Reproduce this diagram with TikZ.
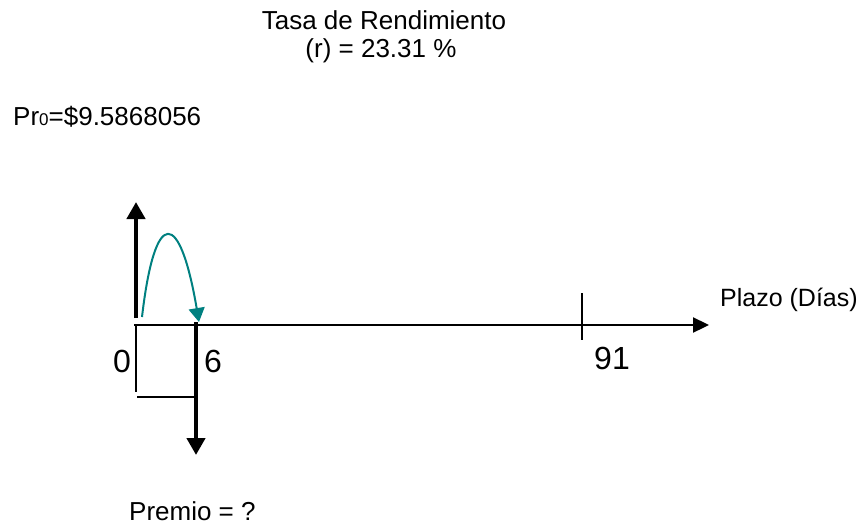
\documentclass[tikz,border=0pt]{standalone}
\usepackage{fontspec}
\setmainfont{Liberation Sans}
\usetikzlibrary{arrows.meta}
\definecolor{curvecol}{RGB}{0,128,128}
\tikzset{
  lbl/.style={inner sep=0pt, anchor=base west, font=\fontsize{26}{30}\selectfont},
  biglbl/.style={inner sep=0pt, anchor=base west, font=\fontsize{32}{36}\selectfont},
  bigarrow/.style={line width=4.5pt, -{Triangle[length=17pt,width=18pt]}},
  axisline/.style={line width=2.3pt, -{Triangle[length=16pt,width=15pt]}},
  thinline/.style={line width=1.3pt},
  curvearrow/.style={curvecol, line width=2pt, -{Triangle[length=14pt,width=16pt]}}
}
\begin{document}
\begin{tikzpicture}[x=1pt,y=-1pt]
\useasboundingbox (0,0) rectangle (867,525);
% title
\node[inner sep=0pt, anchor=base, font=\fontsize{26}{30}\selectfont] (title1) at (384,29) {Tasa de Rendimiento};
\node[inner sep=0pt, anchor=base, font=\fontsize{26}{30}\selectfont] (title2) at (381,57) {(r) = 23.31 \%};
\node[lbl] (pr) at (13,125) {Pr{\fontsize{17}{20}\selectfont 0}=\$9.5868056};
\node[lbl] (premio) at (129,520) {Premio = ?};
\node[lbl, font=\fontsize{25}{29}\selectfont] (plazo) at (720,306) {Plazo (Días)};
\node[biglbl] (n91) at (594,369) {91};
\node[biglbl] (n0) at (113,372) {0};
\node[biglbl] (n6) at (204,372) {6};
% coordinates
\coordinate (axA) at (134,325);
\coordinate (axB) at (709,325);
\coordinate (upA) at (136,318);
\coordinate (upB) at (136,202);
\coordinate (dnA) at (196,322);
\coordinate (dnB) at (196,455);
\coordinate (tkA) at (582,293);
\coordinate (tkB) at (582,340);
\coordinate (vA) at (136,325);
\coordinate (vB) at (136,392);
\coordinate (hA) at (137,397);
\coordinate (hB) at (196,397);
\coordinate (cA) at (142,317);
\coordinate (cB) at (199,322);
% drawing
\draw[axisline] (axA) -- (axB);
\draw[line width=1.5pt] (tkA) -- (tkB);
\draw[thinline] (vA) -- (vB);
\draw[thinline] (hA) -- (hB);
\draw[bigarrow] (upA) -- (upB);
\draw[bigarrow] (dnA) -- (dnB);
\draw[curvearrow] (cA) .. controls (155,205) and (180,210) .. (cB);
\end{tikzpicture}
\end{document}
